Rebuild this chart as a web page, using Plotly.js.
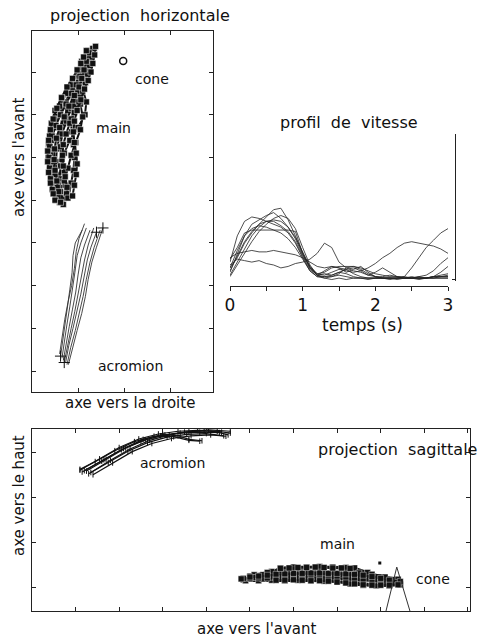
<!DOCTYPE html>
<html><head><meta charset="utf-8">
<script src="https://cdn.plot.ly/plotly-3.0.1.min.js"></script>
<style>html,body{margin:0;padding:0;background:#fff}#chart{width:482px;height:640px}</style>
</head><body><div id="chart"></div>
<script>
// ---------- velocity profile (time in s, speed arbitrary units) ----------
const TIME = [0,0.1,0.2,0.3,0.4,0.5,0.6,0.7,0.8,0.9,1.0,1.1,1.2,1.3,1.4,1.5,1.6,1.7,1.8,1.9,2.0,2.1,2.2,2.3,2.4,2.5,2.6,2.7,2.8,2.9,3.0];
const SPEED = [
  [8,15,25,32,38,43,48,49,41,30,18,8, 3,2,2,3,2,1,1,1,1,1,1,1,2,8,15,22,27,32,35],
  [5,18,30,38,41,44,46,42,36,28,17,9, 4,3,5,7,6,5,6,8,11,15,18,22,25,26,25,24,23,21,18],
  [12,30,40,43,42,40,38,36,32,25,15,6, 2,2,3,5,4,2,1,1,1,1,0,1,1,1,1,1,1,1,1],
  [14,22,32,34,34,34,34,34,34,33,18,8, 4,5,8,9,9,9,8,6,4,3,2,2,1,1,2,3,6,11,15],
  [3,12,22,30,36,40,40,37,33,26,16,7, 3,6,9,8,5,7,9,5,2,1,1,1,1,1,1,1,1,2,2],
  [8,20,30,35,37,36,34,32,28,22,14,6, 2,1,2,4,8,9,7,4,2,1,1,1,1,1,1,1,2,3,4],
  [2,10,18,26,33,38,42,44,42,35,22,10, 3,1,0,1,0,1,1,0,1,1,1,0,1,1,0,1,1,1,1],
  [15,18,19,20,19,19,20,19,18,17,15,12, 9,8,9,8,7,8,6,3,5,8,5,2,1,1,1,1,2,2,3],
  [10,14,13,12,13,11,10,8,9,11,12,14, 18,25,22,12,8,6,5,3,2,2,3,2,2,1,2,1,2,2,2],
  [6,16,26,33,38,40,41,40,36,29,19,9, 3,4,3,5,7,4,2,1,1,1,1,1,1,2,1,1,2,5,9]
];
const TIME_TICKS = [0,0.5,1,1.5,2,2.5,3];
const TIME_LABELS = ["0","","1","","2","","3"];

// ---------- horizontal projection (cm: right, forward) ----------
const HAND_H_X = [
  [6.0,5.0,4.5,4.2,4.0,4.2,4.8,5.8,7.2,8.8,10.2,11.0],
  [6.5,6.0,5.5,5.2,5.4,6.0,6.8,7.8,9.0,10.2,11.2,12.0],
  [7.0,7.2,7.0,6.5,6.2,6.5,7.5,8.5,9.5,10.5,11.5,12.5],
  [5.5,4.5,3.8,3.5,3.6,4.0,4.8,6.0,7.5,8.8,10.0,10.8],
  [8.0,8.5,9.0,9.2,9.0,8.6,8.5,9.0,10.0,11.0,12.2,13.0],
  [6.8,6.2,6.0,6.2,7.0,8.2,10.0,11.5,11.8,11.0,11.2,11.8],
  [5.2,5.5,5.0,4.2,3.8,3.8,4.2,5.0,6.5,8.5,10.0,11.5],
  [7.5,7.0,7.8,8.5,9.5,10.5,11.0,10.5,10.0,10.8,12.5,13.5],
  [5.0,4.4,4.0,3.8,3.7,3.9,4.4,5.2,6.2,7.4,8.6,9.6,10.4,11.0,11.6,12.2],
  [7.8,7.6,7.2,6.8,6.6,6.8,7.4,8.2,9.2,10.2,11.0,11.6,12.0,12.4,12.8,13.2],
  [6.2,5.8,5.4,5.0,4.8,4.9,5.3,6.0,7.0,8.0,9.2,10.2,10.8,11.3,11.8,12.4],
  [8.8,9.2,9.6,9.8,9.6,9.2,9.0,9.2,9.8,10.6,11.4,12.2,12.8,13.2,13.6,13.8],
  [4.6,4.0,3.6,3.4,3.4,3.6,4.0,4.6,5.4,6.4,7.6,8.8,9.8,10.6,11.2,11.8]
];
const HAND_H_Y = [
  [39.5,42,45,48,51,54,57,60,63,66,69,72],
  [40,43,46,49,52,55,58,61,64,67,70,73],
  [40.5,43.5,46.5,49.5,52.5,55.5,58.5,61.5,64.5,67.5,70.5,74],
  [41,44,47,50,53,56,59,62,65,67.5,70,72.5],
  [41,44,47,50,53,56,59,62,65,68,71,74],
  [39,42,45,48,51,54,57,60,63,66,69,72],
  [40,43,46,49,52,55,58,61,64,67,70,73],
  [41.5,44.5,47.5,50.5,53.5,56.5,59.5,62.5,65.5,68.5,71.5,75.5],
  [40,42.5,45,47.5,50,52.5,55,57.5,60,62.5,65,67,69,71,73,75],
  [40.5,43,45.5,48,50.5,53,55.5,58,60.5,63,65.5,67.5,69.5,71.5,73.5,75.5],
  [39.5,42,44.5,47,49.5,52,54.5,57,59.5,62,64.5,66.5,68.5,70.5,72.5,74.5],
  [41,43.5,46,48.5,51,53.5,56,58.5,61,63.5,66,68,70,72,74,76],
  [41.5,44,46.5,49,51.5,54,56.5,59,61.5,64,66.5,68.5,70.5,72,73.5,75]
];
const ACRO_H_X = [
  [6.2,6.7,7.2,7.7,8.2,8.7,8.9,9.4,10.9],
  [6.5,7.0,7.6,8.2,8.8,9.3,9.8,10.6,11.8],
  [6.8,7.4,8.1,8.8,9.5,10.0,10.6,11.4,12.6],
  [7.0,7.7,8.5,9.3,10.0,10.7,11.4,12.2,13.4],
  [7.3,8.0,8.9,9.8,10.6,11.3,12.0,12.8,14.0],
  [7.6,8.4,9.4,10.3,11.1,11.8,12.6,13.5,14.8],
  [7.9,8.8,9.8,10.8,11.6,12.2,13.0,14.0,15.4],
  [6.0,6.5,7.1,7.8,8.6,9.2,9.6,10.2,11.4]
];
const ACRO_H_Y = [
  [3.5,7,11,15,19,23,27,30,33],
  [3,7,11,15,19,23,27,30,33.5],
  [2.5,6.5,10.5,14.5,18.5,22.5,26.5,29.5,33],
  [2,6,10,14,18,22,26,29.5,33.5],
  [2,6,10,14,18,22,26,29,32.5],
  [1.5,5.5,9.5,13.5,17.5,21.5,25.5,29,33],
  [1.5,5.5,9.5,13.5,17.5,21.5,25.5,29,33.5],
  [4,8,12,16,20,24,28,31,34.5]
];
const CONE_H = {x:[19.8], y:[72.6]};

// ---------- sagittal projection (cm: forward, up) ----------
const ACRO_S_X = [
  [11.0,15.5,20.0,24.5,29.0,33.5,38.0,42.5,45.5],
  [11.5,16.0,20.5,25.0,29.5,34.0,38.5,43.0,45.0],
  [12.5,17.0,21.5,26.0,30.5,35.0,39.5,43.5],
  [13.0,17.5,22.0,26.5,31.0,35.5,40.0,44.0],
  [14.0,18.5,23.0,27.5,32.0,36.5,41.0,44.5],
  [11.0,14.5,19.0,23.5,28.0,32.5,36.0,38.5],
  [13.5,18.0,22.5,27.0,31.5,36.0,40.5,45.5],
  [12.0,16.5,21.0,25.5,30.0,33.5,36.0,39.0]
];
const ACRO_S_Y = [
  [26.0,28.5,31.0,32.9,34.0,34.6,34.8,34.6,34.2],
  [25.6,28.0,30.5,32.4,33.6,34.2,34.4,34.3,33.8],
  [25.8,28.4,30.9,32.7,33.8,34.4,34.7,34.4],
  [25.2,27.7,30.2,32.1,33.3,33.9,34.1,33.6],
  [25.0,27.6,30.1,31.9,33.0,33.6,33.8,33.5],
  [26.2,27.9,30.3,32.3,33.5,33.4,32.6,32.4],
  [25.5,28.2,30.7,32.6,33.8,34.5,34.9,34.6],
  [25.9,28.3,30.8,32.8,33.9,33.6,32.8,32.5]
];
const HAND_S_X = [
  [48.5,51.5,54.5,57.5,60.5,63.5,66.5,69.5,72.5,75.5,78.5,81.5,84.0],
  [50,53,56,59,62,65,68,71,74,77,80,83.5],
  [52,55,57,60,63,66,69,72,74,77,80,83],
  [49,52,55,58,61,64,67,70,73,76,79,82,84.5],
  [55,58,61,64,67,70,73,76,79,82,84.5],
  [51,54,57,60,63,66,69,72,75,78,81,84],
  [48.5,51,54,57,60,63,66,69,72,75,78,81,84],
  [53,56,59,62,65,68,71,74,77,80,83],
  [48,50,52,54,56,58,60,62,64,66,68,70,72,74,76,78,80,82,84],
  [50,52,54,56,58,60,62,64,66,68,70,72,74,76,78,80,82,84.5],
  [56,58,60,62,64,66,68,70,72,74,76,78,80,82,84],
  [57,59,61,63,65,67,69,71,73]
];
const HAND_S_Y = [
  [1.8,2.0,2.1,2.0,2.2,2.1,2.0,2.1,2.0,1.9,1.8,1.7,1.6],
  [2.6,2.9,3.1,3.2,3.3,3.2,3.1,3.0,2.8,2.4,2.0,1.6],
  [2.2,3.6,4.4,4.6,4.6,4.7,4.6,4.5,4.4,3.4,2.4,1.8],
  [1.6,1.6,1.7,1.6,1.7,1.6,1.5,1.4,1.3,1.0,0.7,0.6,0.8],
  [2.4,2.3,2.2,2.1,1.9,1.5,0.9,0.6,0.5,0.5,0.7],
  [2.9,3.4,3.7,3.9,3.8,3.7,3.6,3.5,3.3,3.0,2.4,1.9],
  [2.1,2.3,2.4,2.5,2.4,2.3,2.4,2.5,2.3,2.1,1.9,1.4,1.0],
  [2.0,2.2,2.6,3.0,3.1,3.0,2.9,2.7,2.2,1.6,1.0],
  [2.0,2.1,2.2,2.2,2.3,2.3,2.2,2.3,2.2,2.2,2.1,2.1,2.0,1.9,1.8,1.6,1.4,1.3,1.2],
  [2.4,2.6,2.8,3.0,3.1,3.2,3.2,3.3,3.3,3.2,3.2,3.1,3.0,2.8,2.5,2.1,1.7,1.4],
  [1.7,1.7,1.8,1.7,1.6,1.6,1.5,1.3,1.1,0.9,0.7,0.6,0.6,0.6,0.7],
  [4.3,4.4,4.5,4.5,4.6,4.5,4.4,4.4,4.3]
];
const STRAY_S = {x:[79.8], y:[5.5]};
const CONE_S = {x:[81.0,83.7,87.0], y:[-6,4.6,-6]};

// ---------- build traces ----------
const traces = [];
const INK = '#111';
HAND_H_X.forEach((xs,i)=>traces.push({x:xs,y:HAND_H_Y[i],xaxis:'x',yaxis:'y',type:'scatter',mode:'lines+markers',
  line:{color:INK,width:2},marker:{symbol:'square',size:6,color:INK,line:{color:'#fff',width:0.5}},hoverinfo:'skip'}));
ACRO_H_X.forEach((xs,i)=>traces.push({x:xs,y:ACRO_H_Y[i],xaxis:'x',yaxis:'y',type:'scatter',mode:'lines',
  line:{color:'#333',width:0.9},hoverinfo:'skip'}));
traces.push({x:[ACRO_H_X[0][0],ACRO_H_X[3][0],ACRO_H_X[6][ACRO_H_X[6].length-1],ACRO_H_X[4][ACRO_H_X[4].length-1]],
  y:[ACRO_H_Y[0][0],ACRO_H_Y[3][0],ACRO_H_Y[6][ACRO_H_Y[6].length-1],ACRO_H_Y[4][ACRO_H_Y[4].length-1]],
  xaxis:'x',yaxis:'y',type:'scatter',mode:'markers',marker:{symbol:'cross-thin-open',size:8,color:INK,line:{color:INK,width:1}},hoverinfo:'skip'});
traces.push({x:CONE_H.x,y:CONE_H.y,xaxis:'x',yaxis:'y',type:'scatter',mode:'markers',
  marker:{symbol:'circle-open',size:7,color:INK,line:{color:INK,width:1.5}},hoverinfo:'skip'});

SPEED.forEach(v=>traces.push({x:TIME,y:v,xaxis:'x2',yaxis:'y2',type:'scatter',mode:'lines',
  line:{color:'#222',width:0.8},hoverinfo:'skip'}));

ACRO_S_X.forEach((xs,i)=>traces.push({x:xs,y:ACRO_S_Y[i],xaxis:'x3',yaxis:'y3',type:'scatter',mode:'lines+markers',
  line:{color:'#111',width:1.2},marker:{symbol:'line-ns-open',size:4,color:INK,line:{color:INK,width:1}},hoverinfo:'skip'}));
HAND_S_X.forEach((xs,i)=>traces.push({x:xs,y:HAND_S_Y[i],xaxis:'x3',yaxis:'y3',type:'scatter',mode:'lines+markers',
  line:{color:INK,width:2.5},marker:{symbol:'square',size:6,color:INK,line:{color:'#fff',width:0.4}},hoverinfo:'skip'}));
traces.push({x:STRAY_S.x,y:STRAY_S.y,xaxis:'x3',yaxis:'y3',type:'scatter',mode:'markers',
  marker:{symbol:'square',size:3,color:INK},hoverinfo:'skip'});
traces.push({x:CONE_S.x,y:CONE_S.y,xaxis:'x3',yaxis:'y3',type:'scatter',mode:'lines',
  line:{color:'#333',width:1},hoverinfo:'skip'});

// ---------- layout ----------
const W=482,H=640;
const px=v=>v/W, py=v=>(H-v)/H;
function frame(range,domain,anchor){
  return {range:range,domain:domain,anchor:anchor,showline:true,linecolor:'#222',linewidth:1.3,mirror:'ticks',
    ticks:'inside',ticklen:4,tickwidth:1,tickcolor:'#222',tick0:0,dtick:10,showticklabels:false,
    showgrid:false,zeroline:false,fixedrange:true};
}
const FAM = 'DejaVu Sans, Verdana, sans-serif';
const FONT = {family:FAM,size:14,color:'#111'};
const TFONT = {family:FAM,size:16,color:'#111'};
const AFONT = {family:FAM,size:15,color:'#111'};
function lab(text,x,y,xref,yref,extra){
  return Object.assign({text:text,x:x,y:y,xref:xref,yref:yref,showarrow:false,font:FONT,xanchor:'center',yanchor:'middle'},extra||{});
}
const layout = {
  width:W,height:H,margin:{l:0,r:0,t:0,b:0},paper_bgcolor:'#fff',plot_bgcolor:'rgba(0,0,0,0)',showlegend:false,
  xaxis:frame([0,39.3],[px(32),px(213)],'y'),
  yaxis:frame([-4.9,79.6],[py(392),py(31)],'x'),
  xaxis2:{range:[0,3],domain:[px(230),px(448)],anchor:'free',position:py(286),showline:true,linecolor:'#222',linewidth:1,
    ticks:'outside',ticklen:4,tickcolor:'#222',tickvals:TIME_TICKS,ticktext:TIME_LABELS,
    tickfont:{family:FAM,size:17,color:'#111'},showgrid:false,zeroline:false,fixedrange:true},
  yaxis2:{range:[-1,100],domain:[py(281),py(134)],anchor:'free',side:'right',position:px(455),showline:true,linecolor:'#222',linewidth:1,
    ticks:'inside',ticklen:3,tickcolor:'#222',tickvals:[0,100],showticklabels:false,showgrid:false,zeroline:false,fixedrange:true},
  xaxis3:frame([0,100.5],[px(32),px(470)],'y3'),
  yaxis3:frame([-5.1,35.1],[py(611),py(429)],'x3'),
  annotations:[
    lab('projection  horizontale',px(140),py(15),'paper','paper',{font:TFONT}),
    lab("axe vers l'avant",px(19),py(157),'paper','paper',{textangle:-90,font:AFONT}),
    lab('axe vers la droite',px(130),py(403),'paper','paper',{font:AFONT}),
    lab('cone',26.1,68.4,'x','y'),
    lab('main',17.6,56.9,'x','y'),
    lab('acromion',21.3,1.2,'x','y'),
    lab('profil  de  vitesse',px(349),py(123),'paper','paper',{font:TFONT}),
    lab('temps (s)',px(362),py(325),'paper','paper',{font:{family:FAM,size:17,color:'#111'}}),
    lab('projection  sagittale',px(397),py(449),'paper','paper',{font:TFONT}),
    lab('acromion',32.3,27.6,'x3','y3'),
    lab('main',70.2,9.7,'x3','y3'),
    lab('cone',92.0,2.0,'x3','y3'),
    lab('axe vers le haut',px(19),py(496),'paper','paper',{textangle:-90,font:AFONT}),
    lab("axe vers l'avant",px(257),py(629),'paper','paper',{font:AFONT})
  ]
};
Plotly.newPlot('chart',traces,layout,{staticPlot:true,displayModeBar:false});
</script></body></html>
